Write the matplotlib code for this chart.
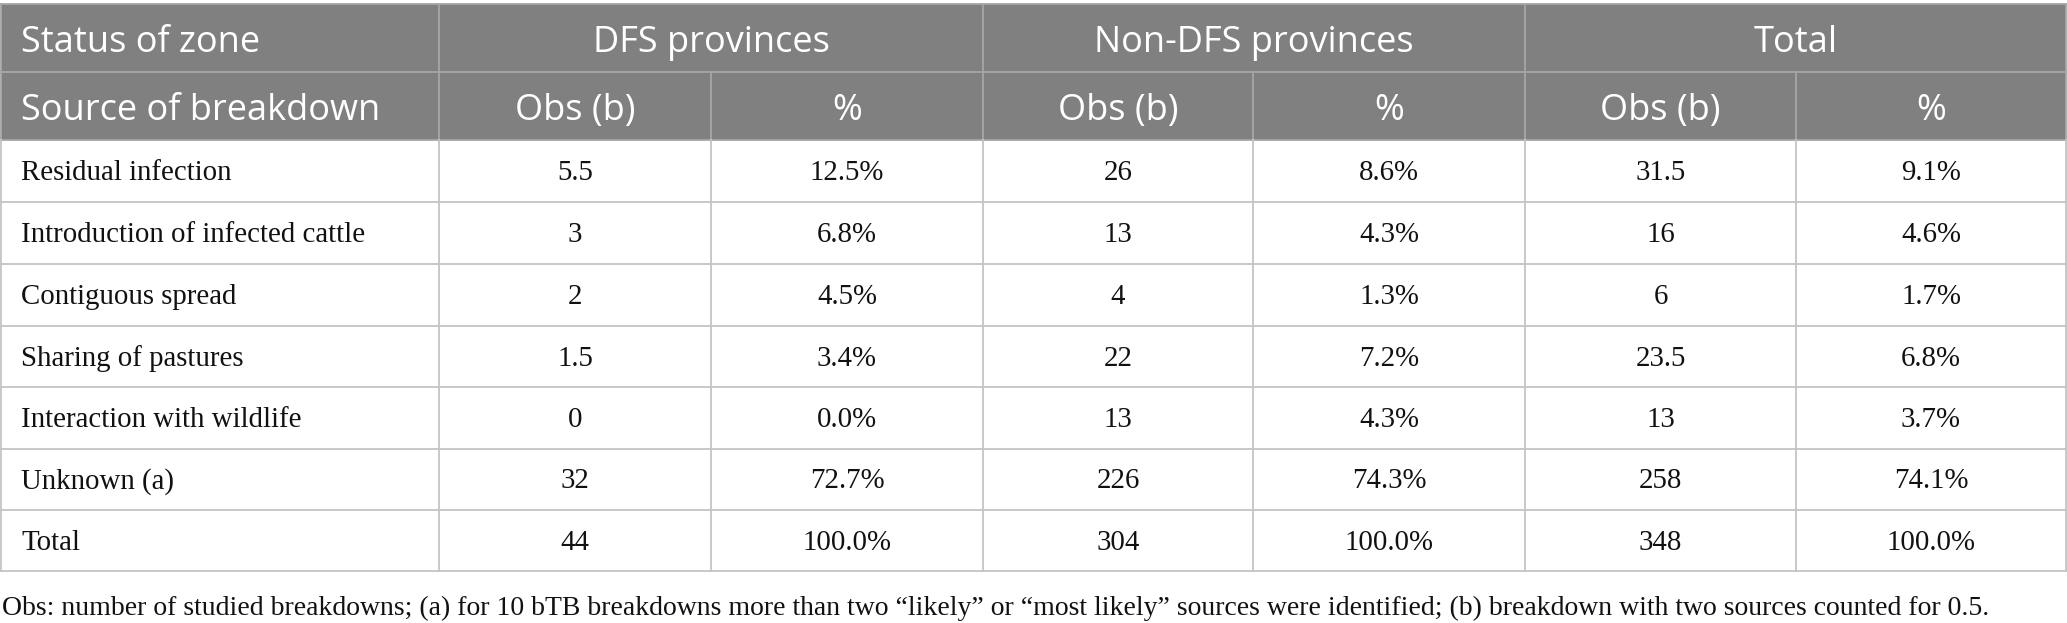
import matplotlib.pyplot as plt
from matplotlib.patches import Rectangle

# ---------------- data ----------------
groups = ["DFS provinces", "Non-DFS provinces", "Total"]
sub_headers = ["Obs (b)", "%"]
sources = ["Residual infection", "Introduction of infected cattle",
           "Contiguous spread", "Sharing of pastures",
           "Interaction with wildlife", "Unknown (a)", "Total"]
dfs_obs = ["5.5", "3", "2", "1.5", "0", "32", "44"]
dfs_pct = ["12.5%", "6.8%", "4.5%", "3.4%", "0.0%", "72.7%", "100.0%"]
non_obs = ["26", "13", "4", "22", "13", "226", "304"]
non_pct = ["8.6%", "4.3%", "1.3%", "7.2%", "4.3%", "74.3%", "100.0%"]
tot_obs = ["31.5", "16", "6", "23.5", "13", "258", "348"]
tot_pct = ["9.1%", "4.6%", "1.7%", "6.8%", "3.7%", "74.1%", "100.0%"]
footnote = ("Obs: number of studied breakdowns; (a) for 10 bTB breakdowns more than two "
            "\u201clikely\u201d or \u201cmost likely\u201d sources were identified; "
            "(b) breakdown with two sources counted for 0.5.")

# ---------------- layout (pixels) ----------------
W, H = 2067, 623
col_x = [1, 439, 711, 983, 1253, 1525, 1796, 2066]
row_y = [4, 72, 140, 202, 264, 326, 387, 449, 510, 571]
head_bg = "#7f807f"
grid_col = "#c4c4c4"
head_grid = "#a6a6a6"
sans = "Open Sans"
serif = "Liberation Serif"

fig = plt.figure(figsize=(W / 100, H / 100), dpi=100)
ax = fig.add_axes([0, 0, 1, 1])
ax.set_xlim(0, W)
ax.set_ylim(H, 0)
ax.axis("off")

# header background
ax.add_patch(Rectangle((col_x[0], row_y[0]), col_x[-1] - col_x[0], row_y[2] - row_y[0],
                       facecolor=head_bg, edgecolor="none", zorder=1))

# header grid lines
for y in row_y[:3]:
    ax.plot([col_x[0], col_x[-1]], [y, y], color=head_grid, lw=1.3, zorder=2)
for i, x in enumerate(col_x):
    if i in (2, 4, 6):
        ax.plot([x, x], [row_y[1], row_y[2]], color=head_grid, lw=1.3, zorder=2)
    else:
        ax.plot([x, x], [row_y[0], row_y[2]], color=head_grid, lw=1.3, zorder=2)

# body grid lines
for y in row_y[3:]:
    ax.plot([col_x[0], col_x[-1]], [y, y], color=grid_col, lw=1.3, zorder=2)
for x in col_x:
    ax.plot([x, x], [row_y[2], row_y[-1]], color=grid_col, lw=1.3, zorder=2)

# header text
hsize = 26
hoff = 5
ax.text(col_x[0] + 20, (row_y[0] + row_y[1]) / 2 + hoff, "Status of zone", color="white",
        fontsize=hsize, family=sans, ha="left", va="center", zorder=3)
ax.text(col_x[0] + 20, (row_y[1] + row_y[2]) / 2 + hoff, "Source of breakdown", color="white",
        fontsize=hsize, family=sans, ha="left", va="center", zorder=3)
for g, name in enumerate(groups):
    xc = (col_x[1 + 2 * g] + col_x[3 + 2 * g]) / 2
    ax.text(xc, (row_y[0] + row_y[1]) / 2 + hoff, name, color="white",
            fontsize=hsize, family=sans, ha="center", va="center", zorder=3)
    for s, sub in enumerate(sub_headers):
        xs = (col_x[1 + 2 * g + s] + col_x[2 + 2 * g + s]) / 2
        ax.text(xs, (row_y[1] + row_y[2]) / 2 + hoff, sub, color="white",
                fontsize=hsize, family=sans, ha="center", va="center", zorder=3)

# body text
bsize = 20.8
boff = 2
columns = [dfs_obs, dfs_pct, non_obs, non_pct, tot_obs, tot_pct]
for r, src in enumerate(sources):
    yc = (row_y[2 + r] + row_y[3 + r]) / 2 + boff
    ax.text(col_x[0] + 20, yc, src, color="#111111", fontsize=bsize, family=serif,
            ha="left", va="center", zorder=3)
    for c, vals in enumerate(columns):
        xc = (col_x[1 + c] + col_x[2 + c]) / 2
        ax.text(xc, yc, vals[r], color="#111111", fontsize=bsize, family=serif,
                ha="center", va="center", zorder=3)

ax.text(2, 608, footnote, color="#111111", fontsize=20, family=serif,
        ha="left", va="center", zorder=3)

fig.savefig("out.png", dpi=100)
